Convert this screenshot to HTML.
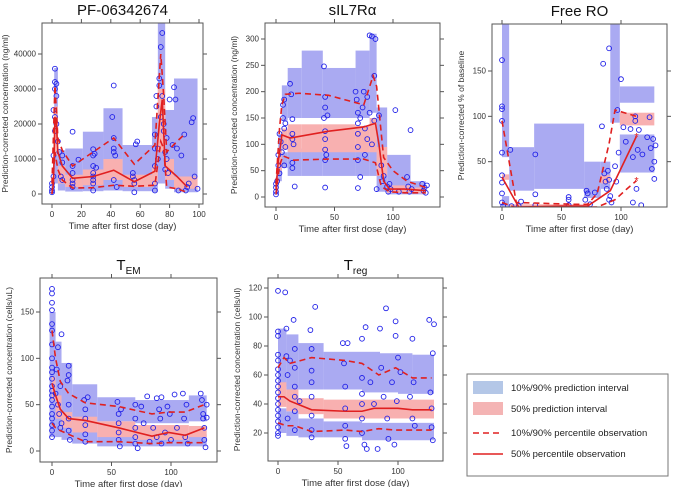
<!DOCTYPE html>
<html><head><meta charset="utf-8"><style>
body{margin:0;background:#fff;}
svg{display:block;font-family:"Liberation Sans",sans-serif;}
</style></head><body>
<svg id="fig" width="680" height="487" viewBox="0 0 680 487">
<g id="legend">
<rect x="467" y="374" width="201" height="102" fill="#fff" stroke="#777" stroke-width="1"/>
<g><rect x="473" y="381" width="30" height="13" fill="#b4c7e7"/><text x="511" y="391" font-size="9.5" fill="#222">10%/90% prediction interval</text></g>
<g><rect x="473" y="402" width="30" height="13" fill="#f4b4b4"/><text x="511" y="412" font-size="9.5" fill="#222">50% prediction interval</text></g>
<g><line x1="473" y1="433" x2="503" y2="433" stroke="#e02020" stroke-width="1.6" stroke-dasharray="6,4"/><text x="511" y="436" font-size="9.5" fill="#222">10%/90% percentile observation</text></g>
<g><line x1="473" y1="454" x2="503" y2="454" stroke="#e02020" stroke-width="1.6"/><text x="511" y="457" font-size="9.5" fill="#222">50% percentile observation</text></g>
</g>
</svg>
<script>
// ---- Panel 1: PF-06342674 ----
const pfRects=[[0,1.5,0,3000,0],[1.5,4,3000,36000,0],[4,9,1000,12500,0],[9,21,700,13000,0],[21,35,800,17800,0],[35,48,1000,24500,0],[48,68,800,14000,0],[68,72,500,22000,0],[72,77,3000,50000,0],[77,83,1500,24000,0],[83,99,500,33000,0],
[1.5,4,11000,25000,1],[4,9,3000,8000,1],[9,21,2000,5500,1],[21,35,2500,7000,1],[35,48,4000,10000,1],[48,68,2000,5500,1],[68,72,2500,8000,1],[72,77,12000,30000,1],[77,83,4000,10000,1],[83,99,1500,5000,1]];
const pfMed=[[0,200],[1,3000],[2,22000],[3,20000],[4,12000],[7,8000],[14,4500],[28,5000],[42,6800],[56,3500],[70,6500],[73,20000],[75,27000],[77,8000],[85,5000],[92,2000]];
const pfP90=[[0,3000],[2,31000],[4,16000],[7,12500],[14,8000],[28,12000],[42,16000],[56,8500],[70,14000],[74,40000],[76,28000],[78,12000],[85,15000],[90,17000]];
const pfP10=[[0,0],[2,12000],[4,7000],[7,4000],[14,1700],[28,1800],[42,2500],[56,2200],[70,2500],[74,15000],[76,13000],[78,2000],[85,1500],[92,500]];
const pfObs=[[0,500],[0,1000],[0,2000],[0,3000],[1,5000],[1,11000],[1,24000],[2,35800],[2,32000],[2,30000],[2,22000],[2,18000],[3,31500],[3,28000],[3,20000],[4,15000],[5,12000],[6,5000],[7,11000],[7,9000],[7,4000],[14,17800],[14,8000],[14,6000],[14,4000],[14,3000],[14,2000],[18,9800],[28,12800],[28,11000],[28,8000],[28,6000],[28,5000],[28,4000],[28,3000],[28,1000],[29,11500],[30,7500],[41,22000],[42,31000],[42,16000],[42,13000],[42,12000],[42,4000],[43,11000],[44,2000],[55,6000],[55,5000],[56,4000],[56,3000],[56,500],[57,14200],[58,15000],[70,17000],[70,13000],[70,8000],[70,3000],[70,1000],[71,28000],[71,25000],[72,10000],[72,13000],[73,33000],[73,31000],[74,42000],[74,22000],[75,46000],[75,28000],[76,20000],[76,18000],[77,12000],[77,7000],[78,16000],[78,10000],[79,6000],[80,27000],[82,14000],[83,30500],[84,27000],[85,13000],[86,1000],[88,11000],[90,17000],[91,1000],[92,2000],[93,3000],[95,20500],[96,21700],[97,5000],[99,1500]];
const pfXT=[0,20,40,60,80,100], pfYT=[0,10000,20000,30000,40000];

// ---- Panel 2: sIL7Ra ----
const srRects=[[0,2,5,40,0],[2,5,30,120,0],[5,10,55,85,0],[5,10,145,212,0],[10,22,40,92,0],[10,22,150,245,0],[22,40,40,92,0],[22,40,150,278,0],[40,68,40,92,0],[40,68,150,245,0],[68,80,40,88,0],[68,80,150,278,0],[80,86,40,88,0],[80,86,160,310,0],[86,95,10,170,0],[95,115,5,80,0],[115,128,5,30,0],
[0,2,10,30,1],[2,5,50,90,1],[5,10,90,130,1],[10,22,85,138,1],[22,40,85,138,1],[40,68,85,138,1],[68,80,85,135,1],[80,86,85,150,1],[86,95,40,95,1],[95,115,8,22,1],[115,128,7,18,1]];
const srMed=[[0,15],[2,70],[4,100],[5,118],[12,112],[45,125],[75,133],[85,140],[88,100],[92,30],[97,15],[110,15],[128,12]];
const srP90=[[0,25],[3,130],[5,175],[8,195],[20,197],[45,193],[75,175],[83,230],[86,210],[92,75],[100,50],[112,30],[128,18]];
const srP10=[[0,5],[3,60],[6,78],[15,70],[45,72],[75,72],[85,65],[90,20],[97,10],[110,8],[128,8]];
const srObs=[[0,5],[0,10],[0,18],[0,25],[1,30],[2,80],[2,60],[3,120],[3,45],[4,105],[5,85],[6,175],[6,150],[7,130],[7,60],[7,185],[8,140],[8,95],[12,215],[13,195],[14,148],[14,120],[14,110],[14,65],[14,55],[15,100],[16,20],[41,248],[41,150],[42,190],[42,170],[42,125],[42,110],[42,90],[42,70],[42,18],[43,80],[44,155],[68,200],[69,185],[70,160],[70,140],[70,120],[70,95],[70,70],[70,17],[72,150],[72,38],[74,170],[75,200],[76,130],[76,80],[78,190],[78,110],[80,307],[80,160],[82,305],[82,100],[84,230],[84,145],[85,300],[86,15],[88,155],[90,60],[91,30],[92,40],[95,20],[96,10],[97,25],[98,15],[102,165],[105,10],[112,38],[113,20],[114,10],[115,127],[116,15],[125,25],[126,12],[127,18],[128,8],[129,22]];
const srXT=[0,50,100], srYT=[0,50,100,150,200,250,300];

// ---- Panel 3: Free RO ----
const roRects=[[0,6,55,202,0],[0,6,0,12,0],[6,27,18,66,0],[27,69,20,92,0],[69,83,10,50,0],[91,99,93,202,0],[99,128,115,133,0],[99,128,38,80,0],[83,91,20,50,0],
[0,6,30,36,1],[6,69,0,3,1],[83,91,26,35,1],[99,128,90,104,1]];
const roMed=[[0,33],[14,0],[50,1],[72,1],[91,18],[113,78]];
const roP90=[[0,95],[12,5],[60,3],[72,3],[80,15],[90,70],[95,107],[113,100]];
const roP10=[[0,5],[10,0],[80,0],[95,8],[105,20],[113,29]];
const roObs=[[0,162],[0,111],[0,108],[0,95],[0,60],[0,35],[0,27],[0,15],[0,5],[1,1],[7,63],[8,1],[14,1],[16,6],[28,58],[28,14],[28,2],[56,11],[56,8],[56,2],[70,8],[71,18],[72,15],[74,3],[78,16],[84,89],[85,158],[86,37],[87,28],[88,20],[89,40],[90,175],[90,30],[90,8],[91,12],[92,5],[95,45],[96,28],[97,107],[98,60],[100,141],[102,88],[104,72],[108,86],[110,55],[110,5],[112,100],[112,95],[113,20],[114,63],[115,85],[117,2],[118,58],[122,77],[124,99],[125,65],[126,42],[127,75],[128,50],[128,31],[129,68]];
const roXT=[0,50,100], roYT=[50,100,150];

// ---- Panel 4: TEM ----
const emRects=[[-2,3,15,150,0],[3,8,15,118,0],[8,17,12,95,0],[17,38,8,72,0],[38,70,5,20,0],[38,70,32,58,0],[70,100,5,17,0],[70,100,30,55,0],[100,115,5,17,0],[100,115,30,55,0],[115,130,5,18,0],[115,130,32,60,0],
[0,3,55,80,1],[3,8,35,60,1],[8,17,25,42,1],[17,38,20,37,1],[38,70,15,32,1],[70,100,12,28,1],[100,115,12,28,1],[115,130,15,27,1]];
const emMed=[[0,73],[3,60],[7,45],[14,35],[28,33],[56,25],[84,16],[98,20],[112,17],[128,25]];
const emP90=[[0,130],[3,100],[7,75],[14,62],[28,52],[56,48],[84,40],[98,42],[112,42],[128,50]];
const emP10=[[0,30],[3,25],[7,22],[14,18],[28,10],[56,10],[84,8],[98,9],[112,9],[128,9]];
const emObs=[[0,175],[0,170],[0,160],[0,152],[0,137],[0,130],[0,115],[0,100],[0,90],[0,85],[0,78],[0,70],[0,65],[0,60],[0,55],[0,48],[0,40],[0,35],[0,28],[0,22],[0,15],[3,62],[4,88],[5,112],[5,50],[6,40],[7,70],[7,25],[8,126],[8,30],[13,76],[14,92],[14,82],[14,50],[14,35],[14,22],[15,12],[27,55],[28,45],[28,35],[28,28],[28,18],[28,10],[30,58],[55,53],[56,40],[56,30],[56,20],[56,12],[57,5],[58,45],[70,50],[70,35],[70,25],[70,15],[70,8],[72,3],[75,48],[77,30],[80,59],[82,10],[85,25],[88,57],[88,15],[90,45],[91,35],[92,58],[92,8],[95,20],[97,48],[99,40],[100,12],[103,61],[105,25],[110,62],[111,35],[112,15],[113,50],[114,8],[125,62],[126,55],[127,40],[127,35],[128,25],[128,12],[129,4],[130,50],[130,36]];
const emXT=[0,50,100], emYT=[0,50,100,150];

// ---- Panel 5: Treg ----
const trRects=[[0,7,52,92,0],[7,17,50,88,0],[17,38,50,82,0],[38,70,50,76,0],[70,85,48,76,0],[85,100,48,75,0],[100,112,47,75,0],[112,130,47,74,0],
[0,7,20,37,0],[7,17,18,35,0],[17,38,17,30,0],[38,70,17,28,0],[70,130,15,27,0],
[0,7,38,55,1],[7,17,35,50,1],[17,38,33,44,1],[38,130,30,43,1]];
const trMed=[[0,45],[5,45],[10,42],[28,36],[56,35],[70,35],[80,37],[100,37],[112,36],[128,36]];
const trP90=[[0,65],[5,72],[10,68],[28,72],[56,70],[70,68],[84,60],[98,65],[112,58],[128,58]];
const trP10=[[0,27],[7,25],[14,25],[28,21],[56,22],[70,21],[84,23],[98,22],[112,22],[128,22]];
const trObs=[[0,118],[0,90],[0,87],[0,74],[0,70],[0,64],[0,60],[0,56],[0,52],[0,48],[0,44],[0,40],[0,36],[0,32],[0,28],[0,24],[0,20],[0,18],[6,117],[7,92],[7,73],[8,60],[8,30],[10,70],[13,98],[14,78],[14,65],[14,52],[14,45],[14,35],[14,22],[18,42],[27,91],[28,78],[28,63],[28,55],[28,45],[28,32],[28,22],[28,17],[31,107],[54,82],[55,68],[56,52],[56,37],[56,25],[56,16],[57,11],[58,82],[70,85],[70,58],[70,47],[70,40],[70,30],[70,20],[72,12],[73,93],[74,9],[77,55],[80,40],[83,9],[85,92],[86,65],[88,45],[90,106],[91,30],[92,16],[95,55],[97,12],[98,87],[98,97],[99,42],[100,72],[102,62],[110,45],[112,85],[112,30],[113,55],[114,25],[126,98],[127,48],[128,37],[128,24],[129,75],[129,15],[130,95]];
const trXT=[0,50,100], trYT=[20,40,60,80,100,120];

const NS='http://www.w3.org/2000/svg';
const svg=document.getElementById('fig');
function mk(tag,attrs,parent){const e=document.createElementNS(NS,tag);for(const k in attrs)e.setAttribute(k,attrs[k]);(parent||svg).appendChild(e);return e;}
let clipId=0;
function panel(p){
  const sx=v=>p.x0px+(v-p.xa)*(p.x1px-p.x0px)/(p.xb-p.xa);
  const sy=v=>p.y0px+(v-p.ya)*(p.y1px-p.y0px)/(p.yb-p.ya);
  const g=mk('g',{});
  
  
  const cid='c'+(clipId++);
  const cp=mk('clipPath',{id:cid},g);mk('rect',{x:p.L,y:p.T,width:p.R-p.L,height:p.B-p.T},cp);
  const pg=mk('g',{'clip-path':'url(#'+cid+')'},g);
  p.rects.forEach(r=>{const x1=sx(r[0]),x2=sx(r[1]),y1=sy(r[3]),y2=sy(r[2]);
    const el=mk('rect',{x:x1,y:y1,width:x2-x1,height:y2-y1,fill:r[4]?'#f8b0b0':'#aaaaf2'},pg);
    
    });
  p.obs.forEach(o=>{const c=mk('circle',{cx:sx(o[0]),cy:sy(o[1]),r:2.4,fill:'none',stroke:'#2020e8','stroke-width':0.9},pg);
    
    });
  const line=(d,dash,nm)=>{const pl=mk('polyline',{points:d.map(q=>sx(q[0])+','+sy(q[1])).join(' '),fill:'none',stroke:'#e02020','stroke-width':1.6,'stroke-dasharray':dash||'none'},pg);
    
    };
  line(p.p90,'6,4','observed-p90-line');line(p.p10,'6,4','observed-p10-line');line(p.med,null,'observed-median-line');
  (p.stars||[]).forEach(s=>{const t=mk('text',{x:sx(s[0]),y:sy(s[1])+4,'text-anchor':'middle','font-size':11,fill:'#e02020'},pg);t.textContent='*';
    
    });
  const box=mk('rect',{x:p.L,y:p.T,width:p.R-p.L,height:p.B-p.T,fill:'none',stroke:'#555','stroke-width':1},g);
  
  
  p.xt.forEach(v=>{const x=sx(v);mk('line',{x1:x,x2:x,y1:p.B,y2:p.B+4,stroke:'#555'},g);mk('line',{x1:x,x2:x,y1:p.T,y2:p.T-4,stroke:'#555'},g);
    const t=mk('text',{x:x,y:p.B+13,'text-anchor':'middle','font-size':8,fill:'#333'},g);t.textContent=v;
    
    });
  p.yt.forEach(v=>{const y=sy(v);mk('line',{x1:p.L,x2:p.L-4,y1:y,y2:y,stroke:'#555'},g);mk('line',{x1:p.R,x2:p.R+4,y1:y,y2:y,stroke:'#555'},g);
    const t=mk('text',{x:p.L-6,y:y+2.5,'text-anchor':'end','font-size':8,fill:'#333'},g);t.textContent=v;
    
    });
  const xl=mk('text',{x:(p.L+p.R)/2,y:p.B+25,'text-anchor':'middle','font-size':9.5,fill:'#333'},g);xl.textContent='Time after first dose (day)';
  
  
  const yl=mk('text',{x:0,y:0,'text-anchor':'middle','font-size':8.5,fill:'#333',transform:'translate('+p.ylx+','+(p.T+p.B)/2+') rotate(-90)'},g);yl.textContent=p.ylab;
  
  
  const tt=mk('text',{x:(p.L+p.R)/2,y:p.T-8,'text-anchor':'middle','font-size':15,fill:'#111'},g);
  
  
  tt.innerHTML=p.title;
}
panel({name:'pf-06342674',title:'PF-06342674',L:42,R:203,T:23,B:204,x0px:52,x1px:199,xa:0,xb:100,y0px:194,y1px:54,ya:0,yb:40000,rects:pfRects,med:pfMed,p90:pfP90,p10:pfP10,obs:pfObs,xt:pfXT,yt:pfYT,ylx:8,ylab:'Prediction-corrected concentration (ng/ml)'});
panel({name:'sil7ra',title:'sIL7Rα',L:265,R:440,T:23,B:207,x0px:276,x1px:393,xa:0,xb:100,y0px:197,y1px:39,ya:0,yb:300,rects:srRects,med:srMed,p90:srP90,p10:srP10,obs:srObs,xt:srXT,yt:srYT,ylx:237,ylab:'Prediction-corrected concentration (ng/ml)'});
panel({name:'free-ro',title:'Free RO',L:492,R:667,T:24,B:207,x0px:502,x1px:621,xa:0,xb:100,y0px:207,y1px:71,ya:0,yb:150,rects:roRects,med:roMed,p90:roP90,p10:roP10,obs:roObs,xt:roXT,yt:roYT,ylx:464,ylab:'Prediction-corrected % of baseline',stars:[[113,78],[113,29]]});
panel({name:'tem',title:'T<tspan font-size="10" dy="4">EM</tspan>',L:40,R:217,T:278,B:462,x0px:52,x1px:171,xa:0,xb:100,y0px:451,y1px:312,ya:0,yb:150,rects:emRects,med:emMed,p90:emP90,p10:emP10,obs:emObs,xt:emXT,yt:emYT,ylx:12,ylab:'Prediction-corrected concentration (cells/uL)'});
panel({name:'treg',title:'T<tspan font-size="10" dy="4">reg</tspan>',L:268,R:443,T:278,B:461,x0px:278,x1px:398,xa:0,xb:100,y0px:433,y1px:288,ya:20,yb:120,rects:trRects,med:trMed,p90:trP90,p10:trP10,obs:trObs,xt:trXT,yt:trYT,ylx:240,ylab:'Prediction-corrected concentration (cells/ul)'});
</script>
</body></html>
